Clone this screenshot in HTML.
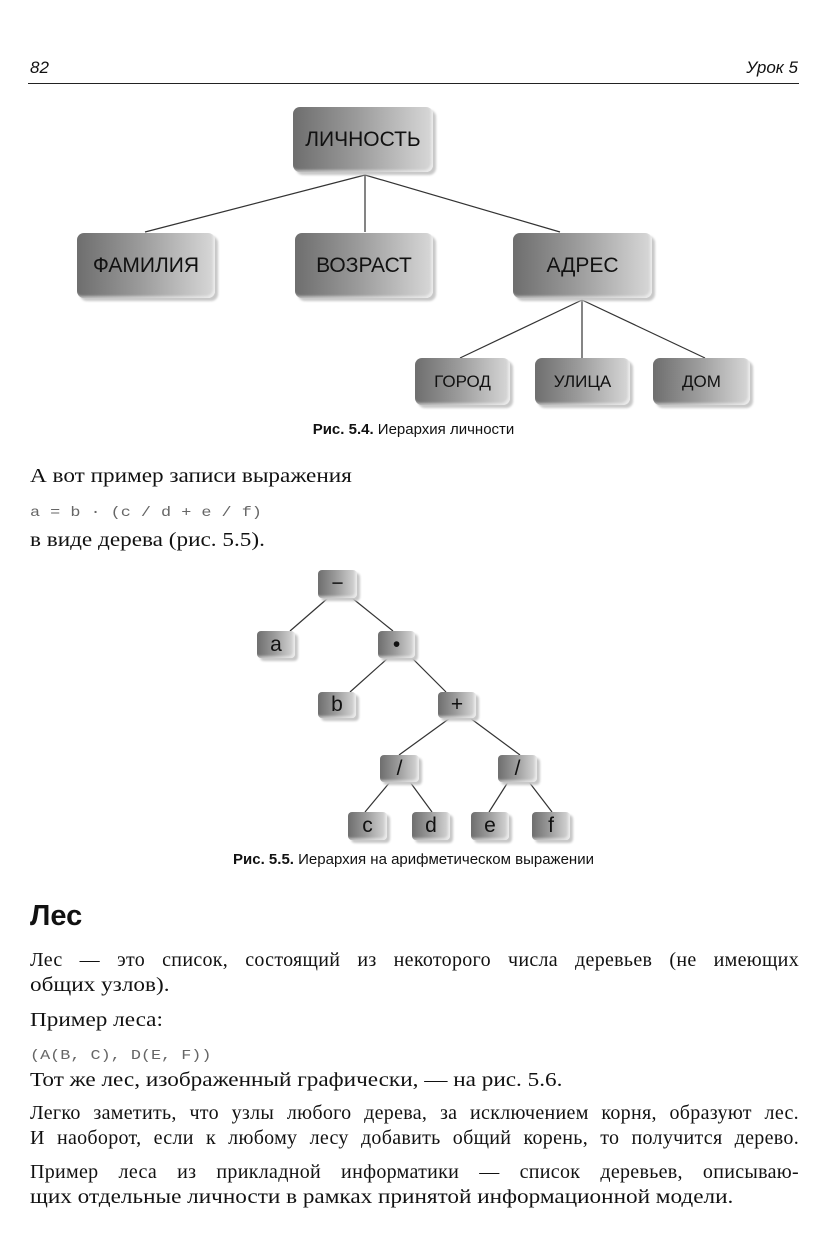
<!DOCTYPE html>
<html><head><meta charset="utf-8">
<style>
body{margin:0;width:827px;height:1239px;background:#fff;position:relative;overflow:hidden;font-family:"Liberation Serif",serif;color:#111}
.a{position:absolute}
.hd{font-family:"Liberation Sans",sans-serif;font-style:italic;font-size:17px}
.box{position:absolute;border-radius:7px;background:linear-gradient(to right,#6e6e6e,#9a9a9a 45%,#d8d8d8);box-shadow:3px 3px 2px #c8c8c8, inset -2px -2px 2px rgba(255,255,255,.5);display:flex;align-items:center;justify-content:center;font-family:"Liberation Sans",sans-serif;color:#111}
.big{font-size:21px}
.mid{font-size:17px}
.sm{font-size:21px;border-radius:4px}
.t{position:absolute;left:30px;font-size:20px;line-height:25px;white-space:nowrap;transform:scaleX(1.16);transform-origin:left top}
.j{width:769px;text-align:justify;text-align-last:justify;white-space:normal;transform:none;letter-spacing:0.3px}
.mono{font-family:"Liberation Mono",monospace;font-size:14px;color:#666;transform:scaleX(1.2)}
.cap{position:absolute;font-family:"Liberation Sans",sans-serif;font-size:15px;width:827px;text-align:center;left:0}
</style></head><body>
<div class="a hd" style="left:30px;top:58px">82</div>
<div class="a hd" style="right:29px;top:58px">Урок 5</div>
<div class="a" style="left:28px;top:83px;width:771px;height:1px;background:#222"></div>

<svg class="a" style="left:0;top:0" width="827" height="900">
<g stroke="#333" stroke-width="1.2" fill="none">
<line x1="365" y1="175" x2="145" y2="232"/>
<line x1="365" y1="175" x2="365" y2="232"/>
<line x1="365" y1="175" x2="560" y2="232"/>
<line x1="582" y1="300" x2="460" y2="358"/>
<line x1="582" y1="300" x2="582" y2="358"/>
<line x1="582" y1="300" x2="705" y2="358"/>
<line x1="328" y1="598" x2="290" y2="631"/>
<line x1="352" y1="598" x2="393" y2="631"/>
<line x1="388" y1="658" x2="350" y2="692"/>
<line x1="412" y1="658" x2="446" y2="692"/>
<line x1="450" y1="718" x2="399" y2="755"/>
<line x1="470" y1="718" x2="520" y2="755"/>
<line x1="390" y1="782" x2="365" y2="812"/>
<line x1="410" y1="782" x2="432" y2="812"/>
<line x1="508" y1="782" x2="489" y2="812"/>
<line x1="529" y1="782" x2="552" y2="812"/>
</g></svg>

<div class="box big" style="left:293px;top:107px;width:140px;height:65px">ЛИЧНОСТЬ</div>
<div class="box big" style="left:77px;top:233px;width:138px;height:65px">ФАМИЛИЯ</div>
<div class="box big" style="left:295px;top:233px;width:138px;height:65px">ВОЗРАСТ</div>
<div class="box big" style="left:513px;top:233px;width:139px;height:65px">АДРЕС</div>
<div class="box mid" style="left:415px;top:358px;width:95px;height:47px">ГОРОД</div>
<div class="box mid" style="left:535px;top:358px;width:95px;height:47px">УЛИЦА</div>
<div class="box mid" style="left:653px;top:358px;width:97px;height:47px">ДОМ</div>
<div class="cap" style="top:421px"><b>Рис. 5.4.</b> Иерархия личности</div>

<div class="t" style="top:464px">А вот пример записи выражения</div>
<div class="t mono" style="top:501px">a = b · (c / d + e / f)</div>
<div class="t" style="top:528px">в виде дерева (рис. 5.5).</div>

<div class="box sm" style="left:318px;top:570px;width:39px;height:28px">−</div>
<div class="box sm" style="left:257px;top:631px;width:38px;height:27px">a</div>
<div class="box sm" style="left:378px;top:631px;width:37px;height:27px">•</div>
<div class="box sm" style="left:318px;top:692px;width:38px;height:26px">b</div>
<div class="box sm" style="left:438px;top:692px;width:38px;height:26px">+</div>
<div class="box sm" style="left:380px;top:755px;width:39px;height:27px">/</div>
<div class="box sm" style="left:498px;top:755px;width:39px;height:27px">/</div>
<div class="box sm" style="left:348px;top:812px;width:39px;height:28px">c</div>
<div class="box sm" style="left:412px;top:812px;width:38px;height:28px">d</div>
<div class="box sm" style="left:471px;top:812px;width:38px;height:28px">e</div>
<div class="box sm" style="left:532px;top:812px;width:38px;height:28px">f</div>
<div class="cap" style="top:851px"><b>Рис. 5.5.</b> Иерархия на арифметическом выражении</div>

<div class="a" style="left:30px;top:900px;font-family:'Liberation Sans',sans-serif;font-weight:bold;font-size:29px">Лес</div>
<div class="t j" style="top:948px">Лес — это список, состоящий из некоторого числа деревьев (не имеющих</div>
<div class="t" style="top:973px">общих узлов).</div>
<div class="t" style="top:1008px">Пример леса:</div>
<div class="t mono" style="top:1044px">(A(B, C), D(E, F))</div>
<div class="t" style="top:1068px">Тот же лес, изображенный графически, — на рис. 5.6.</div>
<div class="t j" style="top:1101px">Легко заметить, что узлы любого дерева, за исключением корня, образуют лес.</div>
<div class="t j" style="top:1126px">И наоборот, если к любому лесу добавить общий корень, то получится дерево.</div>
<div class="t j" style="top:1160px">Пример леса из прикладной информатики — список деревьев, описываю-</div>
<div class="t" style="top:1185px">щих отдельные личности в рамках принятой информационной модели.</div>
</body></html>
